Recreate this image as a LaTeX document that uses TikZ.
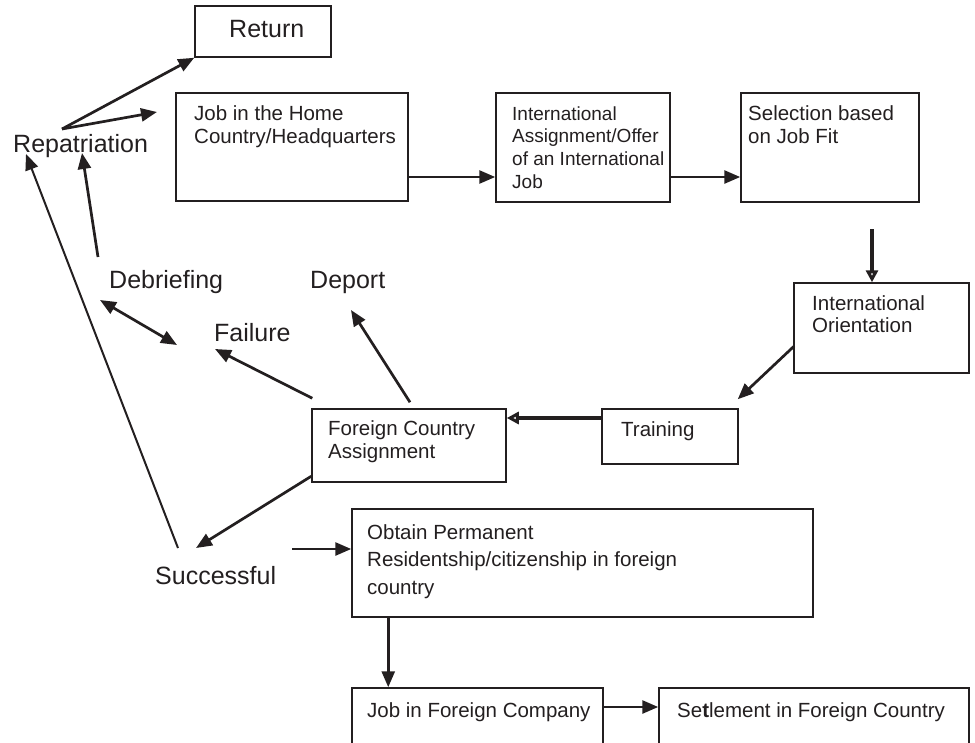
\documentclass[tikz,border=0pt]{standalone}
\usepackage{fontspec}
\setmainfont{Liberation Sans}
\usetikzlibrary{arrows.meta,calc}
\definecolor{ink}{RGB}{35,31,32}

\begin{document}
\begin{tikzpicture}[x=1pt,y=-1pt,
  box/.style={draw=ink, line width=1.5pt, rectangle, inner sep=0pt},
  txt/.style={text=ink, inner sep=0pt, align=left, font=\fontsize{20.5}{23}\selectfont},
  big/.style={text=ink, inner sep=0pt, font=\fontsize{25}{30}\selectfont},
  head/.style={-{Triangle[length=16pt,width=13pt]}},
  arr/.style={draw=ink, line width=2.7pt, head},
  thinarr/.style={draw=ink, line width=2pt, head},
  twoway/.style={draw=ink, line width=2.7pt, {Triangle[length=16pt,width=13pt]}-{Triangle[length=16pt,width=13pt]}},
  heavyarr/.style={draw=ink, line width=4pt, -{Triangle[open,length=12pt,width=12pt]}}
]
\useasboundingbox (0,0) rectangle (975,742);
\clip (0,0) rectangle (975,742);

% process boxes
\node[box, minimum width=136pt, minimum height=51pt]  (ret)  at (263,31.5)  {};
\node[box, minimum width=232pt, minimum height=108pt] (home) at (292,147)   {};
\node[box, minimum width=174pt, minimum height=109pt] (ia)   at (583,147.5) {};
\node[box, minimum width=178pt, minimum height=109pt] (sel)  at (830,147.5) {};
\node[box, minimum width=175pt, minimum height=90pt]  (ori)  at (881.5,328) {};
\node[box, minimum width=136pt, minimum height=55pt]  (tr)   at (670,436.5) {};
\node[box, minimum width=194pt, minimum height=73pt]  (fca)  at (409,445.5) {};
\node[box, minimum width=461pt, minimum height=108pt] (obt)  at (582.5,563) {};
\node[box, minimum width=251pt, minimum height=92pt]  (jfc)  at (477.5,734) {};
\node[box, minimum width=310pt, minimum height=92pt]  (set)  at (814,734)   {};

% box texts
\node[big, anchor=base west] (ret-t) at (229,37) {Return};
\node[txt, anchor=north west] (home-t) at (194,105.3) {Job in the Home\\Country/Headquarters};
\node[txt, anchor=north west, font=\fontsize{19}{22.6}\selectfont] (ia-t) at (512,106.4)
  {International\\Assignment/Offer\\of an International\\Job};
\node[txt, anchor=north west] (sel-t) at (748,105.3) {Selection based\\on Job Fit};
\node[txt, anchor=north west, font=\fontsize{20.5}{22}\selectfont] (ori-t) at (812,295.3) {International\\Orientation};
\node[txt, anchor=base west] (tr-t) at (621,436) {Training};
\node[txt, anchor=north west] (fca-t) at (328,420.3) {Foreign Country\\Assignment};
\node[txt, anchor=north west, font=\fontsize{20.5}{27.5}\selectfont] (obt-t) at (367,524.3)
  {Obtain Permanent\\Residentship/citizenship in foreign\\country};
\node[txt, anchor=base west] (jfc-t) at (367,717) {Job in Foreign Company};
\node[txt, anchor=base west] (set-t) at (677,717) {Se\textbf{t}lement in Foreign Country};

% free-standing labels
\node[big, anchor=base west] (rep) at (13,152)  {Repatriation};
\node[big, anchor=base west] (deb) at (109,288) {Debriefing};
\node[big, anchor=base west] (dep) at (310,288) {Deport};
\node[big, anchor=base west] (fail) at (214,341) {Failure};
\node[big, anchor=base west] (suc) at (155,584) {Successful};

% loose connector ends
\coordinate (repOut)  at (62,129);
\coordinate (homeIn)  at (157,112);
\coordinate (debUp)   at (98,257);
\coordinate (repInA)  at (82,153);
\coordinate (sucUp)   at (178,548);
\coordinate (repInB)  at (26,154);
\coordinate (debEnd)  at (100,300);
\coordinate (failEnd) at (177,345);
\coordinate (failIn)  at (215,349);
\coordinate (depIn)   at (351,310);
\coordinate (sucIn)   at (196,548);
\coordinate (sucOut)  at (292,549);
\coordinate (selOut)  at (872,229);

% main flow
\draw[arr] ([yshift=-30pt]home.east) -- ([yshift=-29.5pt]ia.west);
\draw[arr] ([yshift=-29.5pt]ia.east) -- ([yshift=-29.5pt]sel.west);
\draw[heavyarr] (selOut) -- (selOut |- ori.north);
\draw[arr] ([shift={(1pt,-18pt)}]ori.west) -- ([shift={(-1pt,9pt)}]tr.north east);
\draw[heavyarr] ([yshift=18.5pt]tr.west) -- ([yshift=27.5pt]fca.east);

% outcomes of the assignment
\draw[arr] ([shift={(1pt,10pt)}]fca.north west) -- (failIn);
\draw[arr] ([shift={(1pt,6pt)}]fca.north) -- (depIn);
\draw[arr] ([yshift=6.5pt]fca.south west) -- (sucIn);
\draw[twoway] (debEnd) -- (failEnd);

% repatriation paths
\draw[arr] (debUp) -- (repInA);
\draw[thinarr] (sucUp) -- (repInB);
\draw[arr] (repOut) -- (ret.south west);
\draw[arr] (repOut) -- (homeIn);

% settlement paths
\draw[arr] (sucOut) -- ([yshift=14pt]obt.west);
\draw[arr] ([xshift=37pt]obt.south west) -- ([xshift=37pt]jfc.north west);
\draw[arr] ([yshift=27pt]jfc.east) -- ([yshift=27pt]set.west);
\end{tikzpicture}
\end{document}
